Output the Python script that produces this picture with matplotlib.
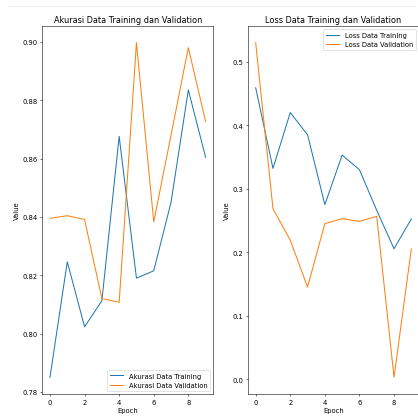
import matplotlib
matplotlib.use("Agg")
import matplotlib.pyplot as plt
from matplotlib.lines import Line2D

# values
epochs = list(range(10))
acc_train = [0.785, 0.8246, 0.8023, 0.8112, 0.8676, 0.819, 0.8215, 0.845, 0.8835, 0.8604]
acc_val = [0.8395, 0.8404, 0.8391, 0.812, 0.8107, 0.8997, 0.8383, 0.868, 0.898, 0.8727]
loss_train = [0.459, 0.332, 0.420, 0.385, 0.275, 0.353, 0.330, 0.266, 0.2055, 0.2524]
loss_val = [0.530, 0.2686, 0.219, 0.145, 0.245, 0.2528, 0.2486, 0.2565, 0.003, 0.205]

dpi = 48.7
W, H = 418, 417
fig = plt.figure(figsize=(W / dpi, H / dpi), dpi=dpi)

# axes boxes in pixels (the right plot runs off the edge like in the screenshot)
bottom = (H - 395) / H
height = 368 / H
ax1 = fig.add_axes([42.2 / W, bottom, 171.2 / W, height])
ax2 = fig.add_axes([247.9 / W, bottom, 171.2 / W, height])

ax1.plot(epochs, acc_train, label="Akurasi Data Training")
ax1.plot(epochs, acc_val, label="Akurasi Data Validation")
ax1.set_title("Akurasi Data Training dan Validation")
ax1.set_xlabel("Epoch")
ax1.set_ylabel("Value")
ax1.legend(loc="lower right")

ax2.plot(epochs, loss_train, label="Loss Data Training")
ax2.plot(epochs, loss_val, label="Loss Data Validation")
ax2.set_title("Loss Data Training dan Validation")
ax2.set_xlabel("Epoch")
ax2.set_ylabel("Value")
ax2.legend(loc="upper right")

# faint notebook border line at the top
fig.add_artist(Line2D([7 / W, 415 / W], [1 - 7 / H, 1 - 7 / H],
                      transform=fig.transFigure, color="#ececec", lw=1))

fig.savefig("out.png", dpi=dpi)
